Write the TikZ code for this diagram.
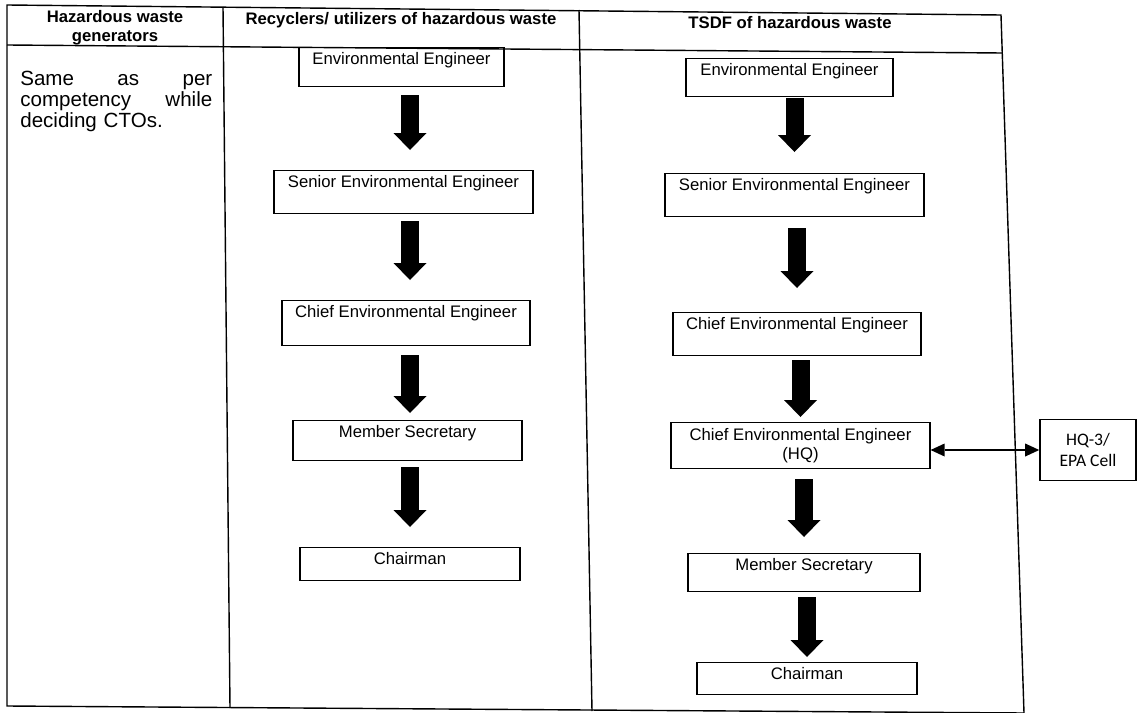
\documentclass[tikz,border=0pt]{standalone}
\usepackage{fontspec}
\setmainfont{Liberation Sans}
\newfontfamily\calibri{Carlito}
\usetikzlibrary{arrows.meta}

\begin{document}
\begin{tikzpicture}[x=0.02cm,y=-0.02cm,
    rule/.style={line width=0.8pt},
    head/.style={font=\fontsize{9.5}{10.8}\selectfont\bfseries,align=center,inner sep=0pt},
    post/.style={draw,line width=0.7pt,anchor=north,inner ysep=0.1cm,text height=0.24cm,font=\fontsize{9.5}{11}\selectfont},
    flow/.style={line width=0.36cm,-{Triangle[width=0.66cm,length=0.34cm,line width=0pt]}},
    link/.style={line width=1.1pt,{Triangle[width=0.26cm,length=0.28cm,line width=0pt]}-{Triangle[width=0.26cm,length=0.28cm,line width=0pt]}}]
  \useasboundingbox (0,0) rectangle (1143,713);
  \draw[rule] (7,5) -- (1001,15) -- (1024,713) -- (7,706) -- cycle;
  \draw[rule] (7,45) -- (1002,53);
  \draw[rule] (223,7) -- (230,708);
  \draw[rule] (579,10) -- (592,711);
  \node[head] (h1) at (115,28) {Hazardous waste\\generators};
  \node[head] (h2) at (401,20) {Recyclers/ utilizers of hazardous waste};
  \node[head] (h3) at (790,23) {TSDF of hazardous waste};
  \node[anchor=north west,inner sep=0pt,text width=3.84cm,align=left,font=\fontsize{11.7}{12}\selectfont] (same) at (20,71) {Same\hfill as\hfill per\\competency\hfill while\\deciding CTOs.};
  \coordinate (axis2) at (410,0);
  \node[post,text depth=0.34cm,minimum width=4.10cm] (ee2) at (401.5,47) {Environmental Engineer};
  \node[post,text depth=0.42cm,minimum width=5.18cm] (sen2) at (403.5,170) {Senior Environmental Engineer};
  \node[post,text depth=0.46cm,minimum width=4.96cm] (chief2) at (406,300) {Chief Environmental Engineer};
  \node[post,text depth=0.36cm,minimum width=4.58cm] (ms2) at (407.5,420) {Member Secretary};
  \node[post,text depth=0.22cm,minimum width=4.40cm] (ch2) at (410,547) {Chairman};
  \node[post,text depth=0.32cm,minimum width=4.14cm] (ee3) at (789.5,58) {Environmental Engineer};
  \node[post,text depth=0.42cm,minimum width=5.18cm] (sen3) at (794.5,173) {Senior Environmental Engineer};
  \node[post,text depth=0.42cm,minimum width=4.96cm] (chief3) at (797,312) {Chief Environmental Engineer};
  \node[draw,line width=0.7pt,anchor=north,align=center,font=\fontsize{9.5}{10.5}\selectfont,minimum width=5.18cm,minimum height=0.92cm] (hq3) at (800.5,422) {Chief Environmental Engineer\\(HQ)};
  \node[post,text depth=0.32cm,minimum width=4.64cm] (ms3) at (804,553) {Member Secretary};
  \node[post,text depth=0.20cm,minimum width=4.40cm] (ch3) at (807,662) {Chairman};
  \node[draw,line width=0.9pt,align=center,font=\calibri\fontsize{10}{12.4}\selectfont,minimum width=1.92cm,minimum height=1.22cm] (epa) at (1088,450) {HQ-3/\\EPA Cell};
  \foreach \a/\b/\s/\e in {ee2/sen2/0.16cm/0.40cm,sen2/chief2/0.14cm/0.40cm,chief2/ms2/0.18cm/0.14cm,ms2/ch2/0.12cm/0.40cm}
    \draw[flow,shorten <=\s,shorten >=\e] (\a.south -| axis2) -- (\b.north -| axis2);
  \foreach \a/\b/\s/\e in {ee3/sen3/0.02cm/0.42cm,sen3/chief3/0.22cm/0.48cm,chief3/hq3/0.08cm/0.10cm,hq3/ms3/0.20cm/0.32cm,ms3/ch3/0.10cm/0.10cm}
    \draw[flow,shorten <=\s,shorten >=\e] (\a.south -| \b.north) -- (\b.north);
  \draw[link] (hq3.east |- epa.west) -- (epa.west);
\end{tikzpicture}
\end{document}
